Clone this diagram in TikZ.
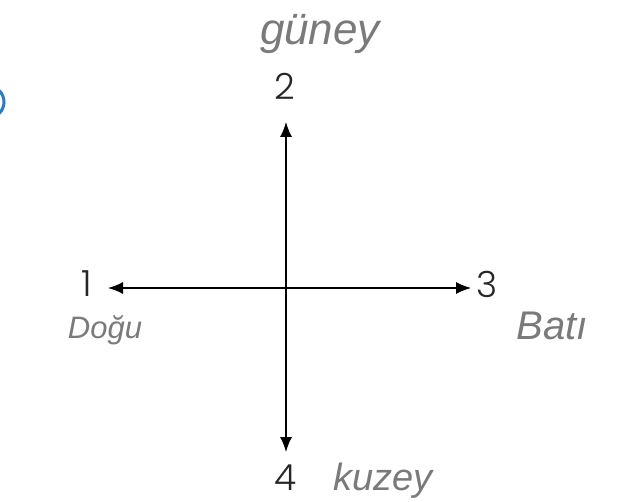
\documentclass[tikz,border=0pt]{standalone}
\usepackage{fontspec}
\usetikzlibrary{arrows.meta}
\newfontfamily\numfont{Poppins Light}
\newfontfamily\handfont{Liberation Sans}
\definecolor{handgray}{HTML}{7A7A7A}
\definecolor{ringblue}{HTML}{2B7BC4}
\tikzset{
  num/.style={font=\numfont\fontsize{36}{36}\selectfont, text=black!85, inner sep=0pt},
  hand/.style={font=\handfont\itshape, text=handgray, inner sep=0pt},
  axis/.style={line width=1.3pt, -{Latex[length=15pt,width=12pt]}},
}
\begin{document}
\begin{tikzpicture}[x=1pt,y=-1pt]
\useasboundingbox (0,0) rectangle (636,502);
\coordinate (c) at (286,288);
\node[num] (n1) at (87,284) {1};
\node[num] (n2) at (285,86) {2};
\node[num] (n3) at (487,284) {3};
\node[num] (n4) at (286,478) {4};
\coordinate (t1) at (108,288);
\coordinate (t2) at (286,122);
\coordinate (t3) at (471,288);
\coordinate (t4) at (286,452);
\draw[axis] (c) -- (t1);
\draw[axis] (c) -- (t2);
\draw[axis] (c) -- (t3);
\draw[axis] (c) -- (t4);
\node[hand, font=\handfont\itshape\fontsize{44}{44}\selectfont] (g) at (320,34) {güney};
\node[hand, font=\handfont\itshape\fontsize{31}{31}\selectfont] (d) at (105,330) {Doğu};
\node[hand, font=\handfont\itshape\fontsize{40}{40}\selectfont] (b) at (552,326) {Batı};
\node[hand, font=\handfont\itshape\fontsize{38}{38}\selectfont] (k) at (383,481) {kuzey};
\draw[ringblue, line width=3pt] (-12,102) circle[radius=16];
\end{tikzpicture}
\end{document}
